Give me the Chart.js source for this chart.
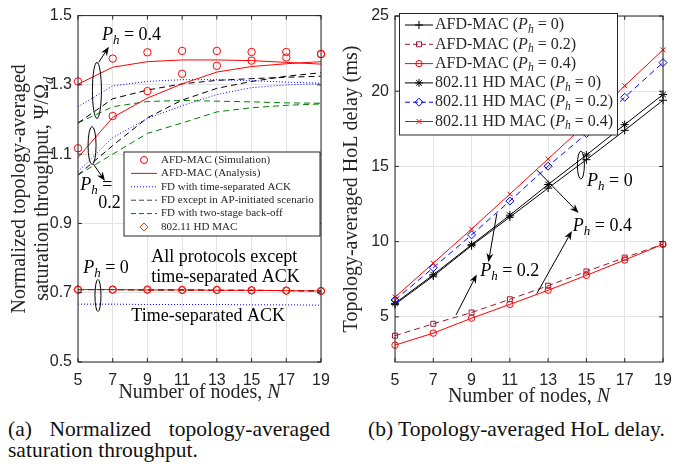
<!DOCTYPE html>
<html>
<head>
<meta charset="utf-8">
<script src="https://cdn.jsdelivr.net/npm/chart.js@4.4.1/dist/chart.umd.min.js"></script>
<style>
  body { margin: 0; background: #fff; width: 682px; height: 464px; position: relative; overflow: hidden; }
  canvas { position: absolute; top: 0; }
  #thr { left: 0; }
  #hol { left: 340px; }
  .cap { position: absolute; font-family: 'Liberation Serif', 'Times New Roman', serif; font-size: 21.5px; line-height: 22px; color: #111; white-space: nowrap; }
</style>
</head>
<body>
<canvas id="thr" width="340" height="405"></canvas>
<canvas id="hol" width="342" height="405"></canvas>
<div class="cap" style="left:8px;top:418px;width:322px;text-align:justify;text-align-last:justify;white-space:normal">(a) Normalized topology-averaged</div>
<div class="cap" style="left:8px;top:439px">saturation throughput.</div>
<div class="cap" style="left:368px;top:418px">(b) Topology-averaged HoL delay.</div>
<script>
const nodes = [5, 7, 9, 11, 13, 15, 17, 19];
const thrTicks = [0.5, 0.7, 0.9, 1.1, 1.3, 1.5];
const delayTicks = [5, 10, 15, 20, 25];

// (a) normalized throughput, P_h = 0.4
const simPh04 = [1.310, 1.376, 1.394, 1.398, 1.398, 1.395, 1.395, 1.389];
const anaPh04 = [1.302, 1.351, 1.367, 1.372, 1.372, 1.370, 1.365, 1.360];
const tsaPh04 = [1.237, 1.297, 1.310, 1.315, 1.315, 1.312, 1.308, 1.305];
const apPh04  = [1.190, 1.260, 1.285, 1.303, 1.313, 1.318, 1.322, 1.325];
const twoPh04 = [1.190, 1.237, 1.252, 1.255, 1.253, 1.251, 1.248, 1.247];
// P_h = 0.2
const simPh02 = [1.117, 1.210, 1.282, 1.332, 1.355, 1.370, 1.379, 1.389];
const anaPh02 = [1.090, 1.206, 1.262, 1.303, 1.337, 1.353, 1.361, 1.367];
const tsaPh02 = [1.050, 1.148, 1.203, 1.240, 1.272, 1.292, 1.300, 1.303];
const apPh02  = [1.040, 1.125, 1.205, 1.256, 1.290, 1.310, 1.325, 1.335];
const twoPh02 = [1.040, 1.100, 1.160, 1.190, 1.222, 1.234, 1.241, 1.245];
// P_h = 0
const simPh0 = [0.709, 0.709, 0.709, 0.708, 0.708, 0.707, 0.706, 0.705];
const anaPh0 = [0.709, 0.709, 0.708, 0.708, 0.707, 0.707, 0.706, 0.705];
const tsaPh0 = [0.667, 0.667, 0.666, 0.666, 0.666, 0.665, 0.665, 0.664];
const hdPh0  = [0.709, 0.709, 0.708, 0.708, 0.708, 0.707, 0.706, 0.705];

// (b) HoL delay in ms
const afdD0  = [5.83, 7.71, 9.73, 11.63, 13.56, 15.45, 17.40, 19.40];
const afdD02 = [3.75, 4.54, 5.29, 6.17, 7.07, 8.02, 8.94, 9.83];
const afdD04 = [3.12, 3.92, 4.91, 5.83, 6.77, 7.76, 8.78, 9.83];
const hdD0   = [5.90, 7.80, 9.80, 11.76, 13.80, 15.76, 17.78, 19.78];
const hdD02  = [6.12, 8.27, 10.45, 12.70, 15.02, 17.18, 19.60, 21.90];
const hdD04  = [6.31, 8.57, 10.84, 13.16, 15.50, 17.85, 20.36, 22.75];

const serif = "'Liberation Serif', 'Times New Roman', serif";
const sans = "'Liberation Sans', Arial, sans-serif";
const ink = '#262626';
const RED = '#ff0000', BLUE = '#0000ff', GREEN = '#008000', BROWN = '#c0471c', MAROON = '#a2142f';
const none = 'rgba(0,0,0,0)';

function line(label, values, color, extra) {
  return Object.assign({
    label: label, data: values, borderColor: color, backgroundColor: none,
    borderWidth: 1, pointRadius: 0, tension: 0, fill: false, clip: false
  }, extra || {});
}
function marks(label, values, color, style, r) {
  return {
    label: label, data: values, showLine: false, borderColor: color, backgroundColor: none,
    pointStyle: style, pointRadius: r, pointHoverRadius: r, pointBorderWidth: 1, clip: false
  };
}

// text with italic P and subscript h etc.
function rich(ctx, parts, x, y, size, align) {
  const fontFor = k => (k ? 'italic ' : '') + (k === 's' ? size * 0.72 : size) + 'px ' + serif;
  let w = 0;
  parts.forEach(p => { ctx.font = fontFor(p[1]); w += ctx.measureText(p[0]).width; });
  let cx = align === 'center' ? x - w / 2 : x;
  ctx.textAlign = 'left';
  ctx.textBaseline = 'middle';
  parts.forEach(p => {
    ctx.font = fontFor(p[1]);
    ctx.fillText(p[0], cx, p[1] === 's' ? y + size * 0.3 : y);
    cx += ctx.measureText(p[0]).width;
  });
  return w;
}
const ph = v => [['P', 'i'], ['h', 's'], [' = ' + v, '']];

function arrow(ctx, x1, y1, x2, y2) {
  const a = Math.atan2(y2 - y1, x2 - x1), L = 9, W = 3.5;
  const c = Math.cos(a), s = Math.sin(a);
  ctx.beginPath();
  ctx.moveTo(x1, y1);
  ctx.lineTo(x2 - L * 0.7 * c, y2 - L * 0.7 * s);
  ctx.stroke();
  ctx.beginPath();
  ctx.moveTo(x2, y2);
  ctx.lineTo(x2 - L * c + W * s, y2 - L * s - W * c);
  ctx.lineTo(x2 - L * 0.7 * c, y2 - L * 0.7 * s);
  ctx.lineTo(x2 - L * c - W * s, y2 - L * s + W * c);
  ctx.closePath();
  ctx.fill();
}
function oval(ctx, x, y, rx, ry) {
  ctx.beginPath();
  ctx.ellipse(x, y, rx, ry, 0, 0, Math.PI * 2);
  ctx.stroke();
}

// legend sample: short line + marker
function sample(ctx, it, x0, x1, y) {
  ctx.save();
  ctx.strokeStyle = it.color;
  ctx.lineWidth = 1;
  if (it.line) {
    ctx.setLineDash(it.dash || []);
    ctx.beginPath(); ctx.moveTo(x0, y); ctx.lineTo(x1, y); ctx.stroke();
    ctx.setLineDash([]);
  }
  if (it.marker) {
    ctx.fillStyle = none;
    Chart.helpers.drawPoint(ctx, { pointStyle: it.marker, rotation: 0, radius: it.r || 3.5, borderWidth: 1 }, (x0 + x1) / 2, y);
  }
  ctx.restore();
}

// MATLAB-like box with inward ticks
const frame = {
  id: 'frame',
  afterDatasetsDraw(chart) {
    const ctx = chart.ctx, a = chart.chartArea, sx = chart.scales.x, sy = chart.scales.y;
    ctx.save();
    ctx.strokeStyle = ink;
    ctx.lineWidth = 1;
    ctx.beginPath();
    sx.ticks.forEach((t, i) => {
      const p = sx.getPixelForTick(i);
      ctx.moveTo(p, a.bottom); ctx.lineTo(p, a.bottom - 4);
      ctx.moveTo(p, a.top); ctx.lineTo(p, a.top + 4);
    });
    sy.ticks.forEach((t, i) => {
      const p = sy.getPixelForTick(i);
      ctx.moveTo(a.left, p); ctx.lineTo(a.left + 4, p);
      ctx.moveTo(a.right, p); ctx.lineTo(a.right - 4, p);
    });
    ctx.stroke();
    ctx.strokeRect(a.left, a.top, a.right - a.left, a.bottom - a.top);
    ctx.restore();
  }
};

function scalesFor(yMin, yMax, yTicks, yWidth, fmt) {
  return {
    x: {
      type: 'category', offset: false,
      grid: { color: '#e3e3e3', drawTicks: false, offset: false },
      border: { display: false },
      ticks: { color: ink, font: { family: sans, size: 16 }, padding: 9, maxRotation: 0, autoSkip: false },
      afterFit: s => { s.height = 405 - 362; }
    },
    y: {
      min: yMin, max: yMax,
      grid: { color: '#e3e3e3', drawTicks: false },
      border: { display: false },
      ticks: { color: ink, font: { family: sans, size: 16 }, padding: 6, callback: fmt },
      afterBuildTicks: s => { s.ticks = yTicks.map(v => ({ value: v })); },
      afterFit: s => { s.width = yWidth; }
    }
  };
}

// ---------- (a) throughput ----------
const legA = [
  { text: 'AFD-MAC (Simulation)', color: RED, marker: 'circle', r: 3.5 },
  { text: 'AFD-MAC (Analysis)', color: RED, line: true },
  { text: 'FD with time-separated ACK', color: BLUE, line: true, dash: [1, 2] },
  { text: 'FD except in AP-initiated scenario', color: '#444', line: true, dash: [5, 3] },
  { text: 'FD with two-stage back-off', color: GREEN, line: true, dash: [5, 3] },
  { text: '802.11 HD MAC', color: BROWN, marker: 'rectRot', r: 4 }
];

const extrasA = {
  id: 'extrasA',
  afterDraw(chart) {
    const ctx = chart.ctx, sx = chart.scales.x, sy = chart.scales.y;
    const X = v => sx.left + (v - 5) / 14 * (sx.right - sx.left);
    const Y = v => sy.getPixelForValue(v);
    ctx.save();
    ctx.fillStyle = '#000';
    ctx.strokeStyle = '#000';
    ctx.lineWidth = 1;
    // P_h = 0.4 group
    rich(ctx, ph('0.4'), X(6.38), Y(1.444), 18);
    oval(ctx, X(6.09), Y(1.284), 4.5, 28);
    arrow(ctx, X(6.19), Y(1.365), X(6.78), Y(1.41));
    // P_h = 0.2 group
    oval(ctx, X(5.81), Y(1.125), 4, 19);
    arrow(ctx, X(5.88), Y(1.072), X(6.55), Y(1.023));
    rich(ctx, [['P', 'i'], ['h', 's'], [' =', '']], X(5.13), Y(1.01), 18);
    rich(ctx, [['0.2', '']], X(6.17), Y(0.958), 18);
    // P_h = 0 group
    rich(ctx, ph('0'), X(5.3), Y(0.77), 18);
    oval(ctx, X(6.15), Y(0.692), 3, 16);
    rich(ctx, [['All protocols except', '']], X(9.22), Y(0.801), 18);
    rich(ctx, [['time-separated ACK', '']], X(9.22), Y(0.744), 18);
    rich(ctx, [['Time-separated ACK', '']], X(8.07), Y(0.633), 18);

    // legend box
    const bx = 124, by = 152, bw = 196, bh = 84;
    ctx.fillStyle = '#fff';
    ctx.fillRect(bx, by, bw, bh);
    ctx.strokeStyle = ink;
    ctx.strokeRect(bx, by, bw, bh);
    legA.forEach((it, i) => {
      const y = 160 + i * 13.4;
      sample(ctx, it, 131, 157, y);
      ctx.fillStyle = ink;
      ctx.font = '11px ' + serif;
      ctx.textAlign = 'left';
      ctx.textBaseline = 'middle';
      ctx.fillText(it.text, 161, y);
    });

    // axis titles
    ctx.fillStyle = ink;
    const a = chart.chartArea;
    rich(ctx, [['Number of nodes, ', ''], ['N', 'i']], (a.left + a.right) / 2, 393, 20, 'center');
    ctx.translate(0, (a.top + a.bottom) / 2);
    ctx.rotate(-Math.PI / 2);
    rich(ctx, [['Normalized topology-averaged', '']], 0, 20, 20, 'center');
    rich(ctx, [['saturation throughput, \u03A8/\u03A9', ''], ['d', 's']], 0, 43, 20, 'center');
    ctx.restore();
  }
};

new Chart(document.getElementById('thr'), {
  type: 'line',
  data: {
    labels: nodes,
    datasets: [
      marks('AFD-MAC (Simulation) Ph=0.4', simPh04, RED, 'circle', 3.7),
      marks('AFD-MAC (Simulation) Ph=0.2', simPh02, RED, 'circle', 3.7),
      marks('AFD-MAC (Simulation) Ph=0', simPh0, RED, 'circle', 3.7),
      marks('802.11 HD MAC', hdPh0, BROWN, 'rectRot', 4),
      line('AFD-MAC (Analysis) Ph=0.4', anaPh04, RED),
      line('AFD-MAC (Analysis) Ph=0.2', anaPh02, RED),
      line('AFD-MAC (Analysis) Ph=0', anaPh0, RED),
      line('FD time-separated ACK Ph=0.4', tsaPh04, BLUE, { borderDash: [1, 2] }),
      line('FD time-separated ACK Ph=0.2', tsaPh02, BLUE, { borderDash: [1, 2] }),
      line('FD time-separated ACK Ph=0', tsaPh0, BLUE, { borderDash: [1, 2] }),
      line('FD except AP-initiated Ph=0.4', apPh04, '#000', { borderDash: [6, 4] }),
      line('FD except AP-initiated Ph=0.2', apPh02, '#000', { borderDash: [6, 4] }),
      line('FD except AP-initiated Ph=0', anaPh0, '#000', { borderDash: [6, 4] }),
      line('FD two-stage back-off Ph=0.4', twoPh04, GREEN, { borderDash: [6, 4] }),
      line('FD two-stage back-off Ph=0.2', twoPh02, GREEN, { borderDash: [6, 4] }),
      line('FD two-stage back-off Ph=0', anaPh0, GREEN, { borderDash: [6, 4] })
    ]
  },
  options: {
    responsive: false,
    animation: false,
    events: [],
    layout: { padding: { left: 0, right: 19, top: 11, bottom: 0 } },
    plugins: { legend: { display: false }, tooltip: { enabled: false } },
    scales: scalesFor(0.5, 1.5, thrTicks, 78, v => v.toFixed(1))
  },
  plugins: [frame, extrasA]
});

// ---------- (b) HoL delay ----------
const legB = [
  { v: '0', pre: 'AFD-MAC (', color: '#000', line: true, marker: 'cross', r: 4 },
  { v: '0.2', pre: 'AFD-MAC (', color: MAROON, line: true, dash: [5, 3], marker: 'rect', r: 3.5 },
  { v: '0.4', pre: 'AFD-MAC (', color: RED, line: true, marker: 'circle', r: 3.2 },
  { v: '0', pre: '802.11 HD MAC (', color: '#000', line: true, marker: 'star', r: 4 },
  { v: '0.2', pre: '802.11 HD MAC (', color: BLUE, line: true, dash: [5, 3], marker: 'rectRot', r: 4 },
  { v: '0.4', pre: '802.11 HD MAC (', color: RED, line: true, marker: 'crossRot', r: 3.5 }
];

const extrasB = {
  id: 'extrasB',
  afterDraw(chart) {
    const ctx = chart.ctx, sx = chart.scales.x, sy = chart.scales.y;
    const X = v => sx.left + (v - 5) / 14 * (sx.right - sx.left);
    const Y = v => sy.getPixelForValue(v);
    ctx.save();
    ctx.fillStyle = '#000';
    ctx.strokeStyle = '#000';
    ctx.lineWidth = 1;
    oval(ctx, X(14.71), Y(15.09), 3.5, 14);
    rich(ctx, ph('0'), X(15.03), Y(14.0), 18);
    arrow(ctx, X(12.41), Y(14.76), X(14.59), Y(11.91));
    rich(ctx, ph('0.4'), X(14.29), Y(11.04), 18);
    arrow(ctx, X(12.41), Y(6.55), X(14.24), Y(10.71));
    rich(ctx, ph('0.2'), X(9.45), Y(8.04), 18);
    arrow(ctx, X(10.32), Y(11.85), X(9.88), Y(8.63));
    arrow(ctx, X(8.19), Y(5.13), X(9.27), Y(7.82));

    // legend box
    const bx = 59.5, by = 13.5, bw = 218, bh = 121.5;
    ctx.fillStyle = '#fff';
    ctx.fillRect(bx, by, bw, bh);
    ctx.strokeStyle = ink;
    ctx.strokeRect(bx, by, bw, bh);
    legB.forEach((it, i) => {
      const y = 25 + i * 19.3;
      sample(ctx, it, 65, 93, y);
      ctx.fillStyle = ink;
      rich(ctx, [[it.pre, ''], ['P', 'i'], ['h', 's'], [' = ' + it.v + ')', '']], 95, y, 16);
    });

    // axis titles
    const a = chart.chartArea;
    ctx.fillStyle = ink;
    rich(ctx, [['Number of nodes, ', ''], ['N', 'i']], (a.left + a.right) / 2, 397, 20, 'center');
    ctx.translate(0, (a.top + a.bottom) / 2);
    ctx.rotate(-Math.PI / 2);
    rich(ctx, [['Topology-averaged HoL delay (ms)', '']], 0, 12, 20, 'center');
    ctx.restore();
  }
};

new Chart(document.getElementById('hol'), {
  type: 'line',
  data: {
    labels: nodes,
    datasets: [
      line('802.11 HD MAC (Ph=0.4)', hdD04, RED, { pointStyle: 'crossRot', pointRadius: 3.5, pointBorderWidth: 1 }),
      line('802.11 HD MAC (Ph=0.2)', hdD02, BLUE, { borderDash: [6, 4], pointStyle: 'rectRot', pointRadius: 4, pointBorderWidth: 1 }),
      line('802.11 HD MAC (Ph=0)', hdD0, '#000', { pointStyle: 'star', pointRadius: 4, pointBorderWidth: 1 }),
      line('AFD-MAC (Ph=0)', afdD0, '#000', { pointStyle: 'cross', pointRadius: 4, pointBorderWidth: 1 }),
      line('AFD-MAC (Ph=0.4)', afdD04, RED, { pointStyle: 'circle', pointRadius: 3.2, pointBorderWidth: 1 }),
      line('AFD-MAC (Ph=0.2)', afdD02, MAROON, { borderDash: [6, 4], pointStyle: 'rect', pointRadius: 3.5, pointBorderWidth: 1 })
    ]
  },
  options: {
    responsive: false,
    animation: false,
    events: [],
    layout: { padding: { left: 0, right: 19, top: 16, bottom: 0 } },
    plugins: { legend: { display: false }, tooltip: { enabled: false } },
    scales: scalesFor(2, 25, delayTicks, 55, v => v)
  },
  plugins: [frame, extrasB]
});
</script>
</body>
</html>
